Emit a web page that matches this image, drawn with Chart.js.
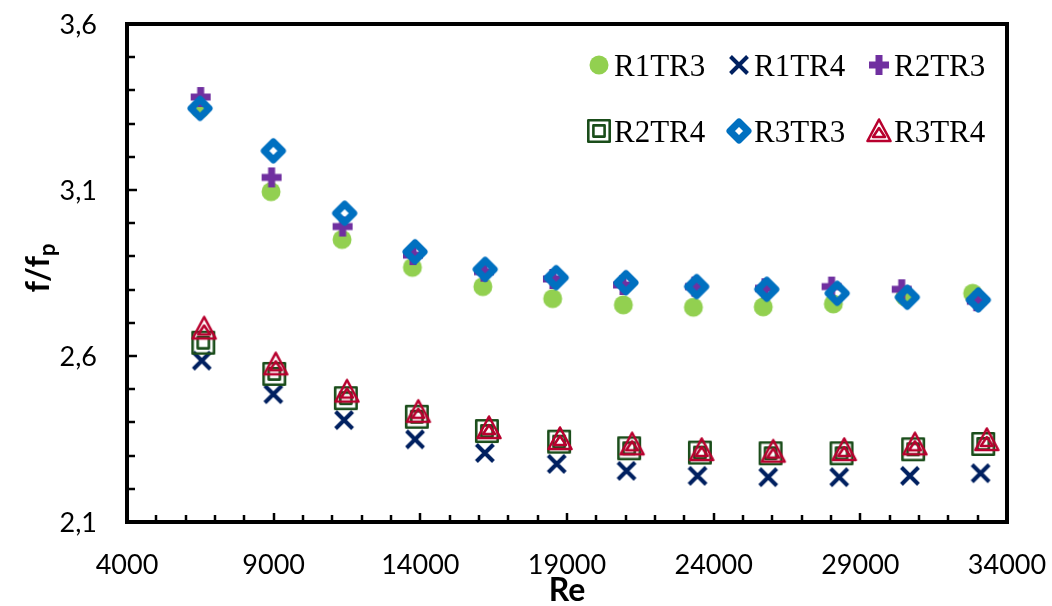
<!DOCTYPE html>
<html>
<head>
<meta charset="utf-8">
<script src="https://cdn.jsdelivr.net/npm/chart.js@4/dist/chart.umd.min.js"></script>
<style>
  html, body { margin: 0; padding: 0; background: #ffffff; }
  #wrap { width: 1052px; height: 606px; }
</style>
</head>
<body>
<div id="wrap"><canvas id="c" width="1052" height="606"></canvas></div>
<script>
// Friction factor ratio f/fp against Reynolds number for six configurations
const seriesNames = ['R1TR3', 'R1TR4', 'R2TR3', 'R2TR4', 'R3TR3', 'R3TR4'];

const reR1TR3 = [6490, 8910, 11330, 13730, 16130, 18510, 20920, 23310, 25690, 28080, 30520, 32830];
const fR1TR3  = [3.344, 3.095, 2.951, 2.867, 2.809, 2.773, 2.754, 2.747, 2.748, 2.757, 2.779, 2.789];

const reR1TR4 = [6550, 8990, 11400, 13820, 16200, 18650, 21030, 23450, 25860, 28280, 30690, 33100];
const fR1TR4  = [2.586, 2.485, 2.407, 2.349, 2.308, 2.275, 2.254, 2.239, 2.235, 2.235, 2.239, 2.247];

const reR2TR3 = [6510, 8930, 11350, 13750, 16170, 18520, 20910, 23360, 25750, 28020, 30410, 32970];
const fR2TR3  = [3.380, 3.138, 2.990, 2.904, 2.854, 2.832, 2.814, 2.809, 2.804, 2.809, 2.801, 2.765];

const reR2TR4 = [6600, 9020, 11460, 13880, 16270, 18730, 21120, 23530, 25940, 28360, 30800, 33190];
const fR2TR4  = [2.640, 2.546, 2.473, 2.417, 2.374, 2.342, 2.322, 2.309, 2.307, 2.307, 2.319, 2.335];

const reR3TR3 = [6490, 8990, 11420, 13820, 16210, 18630, 21010, 23420, 25810, 28210, 30600, 33020];
const fR3TR3  = [3.346, 3.218, 3.030, 2.914, 2.861, 2.836, 2.821, 2.809, 2.801, 2.789, 2.777, 2.769];

const reR3TR4 = [6630, 9070, 11500, 13930, 16340, 18760, 21220, 23590, 26030, 28450, 30860, 33310];
const fR3TR4  = [2.683, 2.575, 2.493, 2.432, 2.383, 2.350, 2.334, 2.317, 2.312, 2.317, 2.334, 2.347];

const xTicks = [4000, 9000, 14000, 19000, 24000, 29000, 34000];
const yTicks = [2.1, 2.6, 3.1, 3.6];
const xMinorStep = 1000;
const yMinorStep = 0.1;

// ---- marker images ----
function makeCanvas(size, draw) {
  const cv = document.createElement('canvas');
  cv.width = size; cv.height = size;
  const g = cv.getContext('2d');
  g.translate(size / 2, size / 2);
  draw(g);
  return cv;
}
const markers = {
  R1TR3: makeCanvas(24, g => {
    g.fillStyle = '#92D050';
    g.beginPath(); g.arc(0, 0, 9.5, 0, Math.PI * 2); g.fill();
  }),
  R1TR4: makeCanvas(26, g => {
    g.strokeStyle = '#002060'; g.lineWidth = 4; g.lineCap = 'butt';
    g.beginPath(); g.moveTo(-8.5, -8.5); g.lineTo(8.5, 8.5);
    g.moveTo(-8.5, 8.5); g.lineTo(8.5, -8.5); g.stroke();
  }),
  R2TR3: makeCanvas(24, g => {
    g.fillStyle = '#7030A0';
    g.fillRect(-10, -3.5, 20, 7);
    g.fillRect(-3.5, -10, 7, 20);
  }),
  R2TR4: makeCanvas(28, g => {
    g.strokeStyle = '#1A4D1A'; g.lineWidth = 2.6; g.lineJoin = 'round';
    g.strokeRect(-10.7, -10.7, 21.4, 21.4);
    g.strokeRect(-5.6, -5.6, 11.2, 11.2);
  }),
  R3TR3: makeCanvas(30, g => {
    g.strokeStyle = '#0070C0'; g.lineWidth = 7; g.lineJoin = 'round';
    g.beginPath(); g.moveTo(0, -9); g.lineTo(9, 0); g.lineTo(0, 9); g.lineTo(-9, 0); g.closePath(); g.stroke();
  }),
  R3TR4: makeCanvas(30, g => {
    g.strokeStyle = '#B8002E'; g.lineWidth = 2.6; g.lineJoin = 'round';
    g.beginPath(); g.moveTo(0, -11.5); g.lineTo(11.5, 10); g.lineTo(-11.5, 10); g.closePath(); g.stroke();
    g.beginPath(); g.moveTo(0, -3); g.lineTo(6, 6); g.lineTo(-6, 6); g.closePath(); g.stroke();
  })
};

function pts(xs, ys) { return xs.map((x, i) => ({ x: x, y: ys[i] })); }
const seriesData = {
  R1TR3: pts(reR1TR3, fR1TR3),
  R1TR4: pts(reR1TR4, fR1TR4),
  R2TR3: pts(reR2TR3, fR2TR3),
  R2TR4: pts(reR2TR4, fR2TR4),
  R3TR3: pts(reR3TR3, fR3TR3),
  R3TR4: pts(reR3TR4, fR3TR4)
};

const datasets = seriesNames.map((name, i) => ({
  label: name,
  data: seriesData[name],
  pointStyle: markers[name],
  pointRadius: 10,
  pointHoverRadius: 10,
  showLine: false,
  order: seriesNames.length - i
}));

const FONT_SANS = 'Lato, "Open Sans", sans-serif';
const fmtY = v => v.toFixed(1).replace('.', ',');
const fmtX = v => String(v);

// axis frame, inward tick marks, tick labels, axis titles and the legend
const framePlugin = {
  id: 'frame',
  afterDraw(chart) {
    const { ctx, chartArea: a, scales } = chart;
    const xs = scales.x, ys = scales.y;
    ctx.save();
    // tick marks pointing into the plot
    ctx.strokeStyle = '#000'; ctx.lineWidth = 2.5; ctx.lineCap = 'butt';
    for (let v = xs.min + xMinorStep; v < xs.max - 1; v += xMinorStep) {
      const px = Math.round(xs.getPixelForValue(v));
      const major = xTicks.includes(Math.round(v));
      ctx.beginPath(); ctx.moveTo(px, a.bottom); ctx.lineTo(px, a.bottom - (major ? 9 : 7)); ctx.stroke();
    }
    for (let k = 1; k < Math.round((ys.max - ys.min) / yMinorStep); k++) {
      const v = ys.min + k * yMinorStep;
      const py = Math.round(ys.getPixelForValue(v));
      const major = yTicks.some(t => Math.abs(t - v) < 1e-6);
      ctx.beginPath(); ctx.moveTo(a.left, py); ctx.lineTo(a.left + (major ? 10 : 8), py); ctx.stroke();
    }
    // box
    ctx.lineWidth = 4; ctx.lineJoin = 'miter';
    ctx.strokeRect(a.left, a.top, a.right - a.left, a.bottom - a.top);

    // tick labels
    ctx.fillStyle = '#000';
    ctx.font = '27px ' + FONT_SANS;
    ctx.textBaseline = 'alphabetic';
    ctx.textAlign = 'center';
    xTicks.forEach(v => ctx.fillText(fmtX(v), xs.getPixelForValue(v), 574));
    ctx.textAlign = 'right';
    yTicks.forEach(v => ctx.fillText(fmtY(v), 97, ys.getPixelForValue(v) + 10));

    // x title
    ctx.font = 'bold 32px ' + FONT_SANS;
    ctx.textAlign = 'center';
    ctx.fillText('Re', (a.left + a.right) / 2, 601);

    // y title with subscript p
    ctx.save();
    ctx.translate(49, 268);
    ctx.rotate(-Math.PI / 2);
    ctx.font = 'bold 32px ' + FONT_SANS;
    const main = 'f/f';
    const w1 = ctx.measureText(main).width;
    ctx.font = 'bold 22px ' + FONT_SANS;
    const w2 = ctx.measureText('p').width;
    const x0 = -(w1 + w2) / 2;
    ctx.textAlign = 'left';
    ctx.font = 'bold 32px ' + FONT_SANS;
    ctx.fillText(main, x0, 0);
    ctx.font = 'bold 22px ' + FONT_SANS;
    ctx.fillText('p', x0 + w1, 6);
    ctx.restore();

    // legend: two rows of three
    const cols = [599, 739, 879];
    const rows = [65, 131];
    ctx.font = '31px "Liberation Serif", "Times New Roman", serif';
    ctx.textAlign = 'left'; ctx.textBaseline = 'alphabetic';
    chart.data.datasets.forEach((ds, i) => {
      const cx = cols[i % 3], cy = rows[Math.floor(i / 3)];
      const img = ds.pointStyle;
      ctx.drawImage(img, cx - img.width / 2, cy - img.height / 2);
      ctx.fillStyle = '#000';
      ctx.fillText(ds.label, cx + 15, cy + 11);
    });
    ctx.restore();
  }
};

new Chart(document.getElementById('c'), {
  type: 'scatter',
  data: { datasets: datasets },
  options: {
    responsive: false,
    animation: false,
    devicePixelRatio: 1,
    layout: { padding: { top: 24, right: 45, left: 0, bottom: 0 } },
    plugins: { legend: { display: false }, tooltip: { enabled: false } },
    scales: {
      x: {
        type: 'linear',
        min: xTicks[0], max: xTicks[xTicks.length - 1],
        afterFit: s => { s.height = 84; },
        afterBuildTicks: s => { s.ticks = xTicks.map(v => ({ value: v })); },
        grid: { display: false, drawTicks: false },
        border: { display: false },
        ticks: { display: false }
      },
      y: {
        type: 'linear',
        min: yTicks[0], max: yTicks[yTicks.length - 1],
        afterFit: s => { s.width = 127; },
        afterBuildTicks: s => { s.ticks = yTicks.map(v => ({ value: v })); },
        grid: { display: false, drawTicks: false },
        border: { display: false },
        ticks: { display: false }
      }
    }
  },
  plugins: [framePlugin]
});
</script>
</body>
</html>
